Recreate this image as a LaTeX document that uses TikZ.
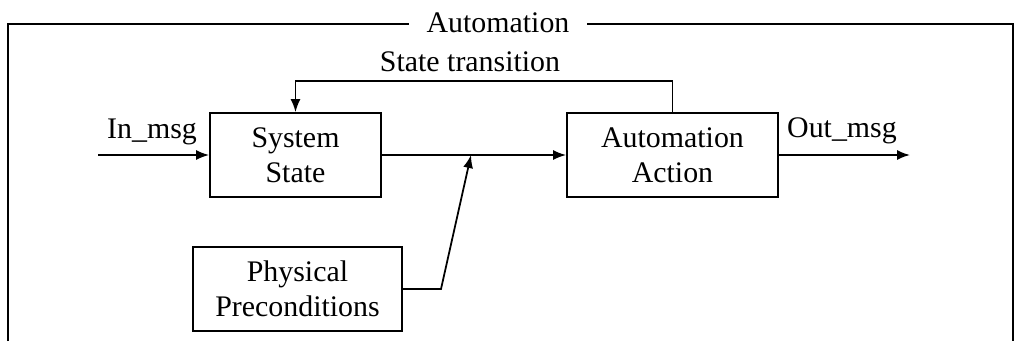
\documentclass[tikz,border=0pt]{standalone}
\usepackage{fontspec}
\setmainfont{Liberation Serif}
\usetikzlibrary{arrows.meta}
\tikzset{
    block/.style = {draw, line width = 1pt, align = center, minimum height = 1.68cm},
    flow/.style = {line width = 1pt, -{Latex[length = 2.6mm, width = 2mm]}}
}
\begin{document}
\begin{tikzpicture}[x = 0.2mm, y = -0.2mm, font = \fontsize{17}{20}\selectfont]
    \useasboundingbox (0,0) rectangle (1018,341);
    \draw[line width = 0.8pt] (8,341) -- (8,24) -- (1013,24) -- (1013,341);
    \node[fill = white, inner xsep = 10pt, inner ysep = 1pt] (title) at (498,23) {Automation};

    \node[block, minimum width = 3.42cm] (state) at (295.5,155) {System\\State};
    \node[block, minimum width = 4.22cm] (action) at (672.5,155) {Automation\\Action};
    \node[block, minimum width = 4.18cm] (precond) at (297.5,289) {Physical\\Preconditions};

    \coordinate (in) at (98,155);
    \coordinate (out) at (910,155);
    \coordinate (join) at (471,155);
    \coordinate (bend) at (441,289);

    \draw[flow] (in) -- (state.west);
    \draw[flow] (state.east) -- (action.west);
    \draw[flow] (action.east) -- (out);
    \draw[flow] (action.north) -- ++(0,-31) -| (state.north);
    \draw[flow] (precond.east) -- (bend) -- (join);

    \node (inlabel) at (152,132) {In\_msg};
    \node (outlabel) at (842,131) {Out\_msg};
    \node (translabel) at (470,62) {State transition};
\end{tikzpicture}
\end{document}
